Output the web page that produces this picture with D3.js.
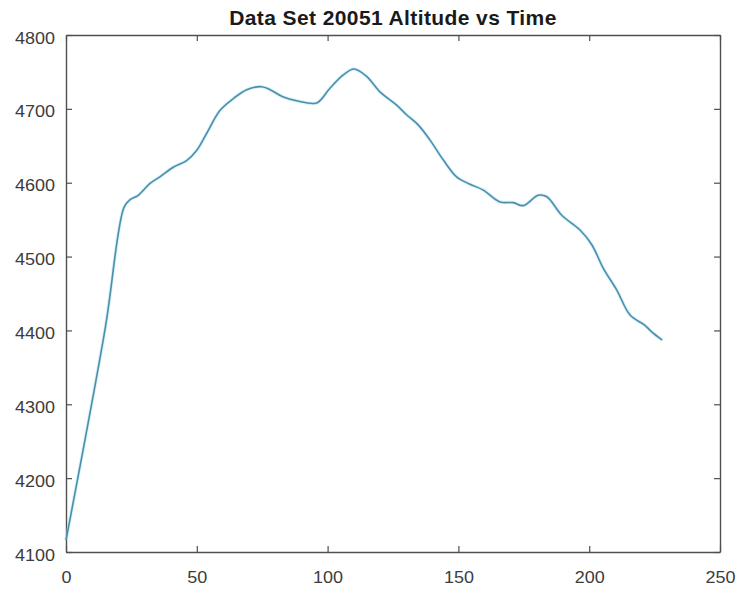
<!DOCTYPE html>
<html>
<head>
<meta charset="utf-8">
<script src="https://cdn.jsdelivr.net/npm/d3@7"></script>
<style>
  html, body { margin: 0; padding: 0; background: #fff; }
  svg { display: block; }
</style>
</head>
<body>
<svg id="chart" width="738" height="589"></svg>
<script>
// Flight time samples (s) and altitude readings (m)
const time = [0, 14.9, 22.2, 24.5, 27.6, 32.1, 35.9, 41.0, 46.1, 50.0, 53.8, 58.9, 64.0, 69.1, 74.8,
  78.0, 83.1, 88.2, 95.8, 100.9, 106.0, 110.1, 114.9, 120.0, 126.4, 130.2, 134.7, 139.1, 144.2,
  149.3, 154.4, 159.5, 165.9, 171.0, 174.8, 180.5, 183.8, 189.5, 196.5, 201.0, 205.4, 210.5,
  215.6, 221.3, 223.9, 227.9];
const altitude = [4116, 4401, 4567, 4577, 4583, 4599, 4608, 4621, 4630, 4644, 4667, 4698, 4714, 4726, 4730,
  4726, 4716, 4711, 4708, 4728, 4746, 4754, 4744, 4723, 4705, 4692, 4678, 4658, 4631,
  4608, 4598, 4590, 4574, 4573, 4569, 4583, 4581, 4556, 4536, 4516, 4484, 4455,
  4421, 4407, 4398, 4387];
const xTicks = [0, 50, 100, 150, 200, 250];
const yTicks = [4100, 4200, 4300, 4400, 4500, 4600, 4700, 4800];
const titleText = "Data Set 20051 Altitude vs Time";

const svg = d3.select("#chart");
const m = { left: 66, right: 720, top: 35, bottom: 552 };

const x = d3.scaleLinear().domain([0, 250]).range([m.left, m.right]);
const y = d3.scaleLinear().domain([4100, 4800]).range([m.bottom, m.top]);

const axisColor = "#4f4f4f";
const textColor = "#3c3c3c";
const font = "'Liberation Sans', Arial, Helvetica, sans-serif";
const tickLen = 6;
const fmt = d3.format("d");
const digitW = 10; // widened tick-label glyphs

// Title
svg.append("text")
  .attr("x", (m.left + m.right) / 2)
  .attr("y", 25)
  .attr("text-anchor", "middle")
  .attr("font-family", font)
  .attr("font-weight", "bold")
  .attr("font-size", 21)
  .attr("letter-spacing", 0.4)
  .attr("fill", "#1a1a1a")
  .text(titleText);

// Bottom and left axes with inward ticks
const xAxis = d3.axisBottom(x).tickValues(xTicks).tickSizeInner(-tickLen).tickSizeOuter(0).tickFormat(fmt);
const yAxis = d3.axisLeft(y).tickValues(yTicks).tickSizeInner(-tickLen).tickSizeOuter(0).tickFormat(fmt);

const gx = svg.append("g").attr("transform", `translate(0,${m.bottom})`).call(xAxis);
const gy = svg.append("g").attr("transform", `translate(${m.left},0)`).call(yAxis);

// Mirror ticks on the top and right edges
const gxTop = svg.append("g").attr("transform", `translate(0,${m.top})`)
  .call(d3.axisTop(x).tickValues(xTicks).tickSizeInner(-tickLen).tickSizeOuter(0).tickFormat(""));
const gyRight = svg.append("g").attr("transform", `translate(${m.right},0)`)
  .call(d3.axisRight(y).tickValues(yTicks).tickSizeInner(-tickLen).tickSizeOuter(0).tickFormat(""));

[gx, gy, gxTop, gyRight].forEach(g => {
  g.select(".domain").attr("stroke", axisColor).attr("stroke-width", 1.4);
  g.selectAll(".tick line").attr("stroke", axisColor).attr("stroke-width", 1.2);
  g.selectAll(".tick text")
    .attr("font-family", font)
    .attr("font-size", 16)
    .attr("fill", textColor)
    .attr("lengthAdjust", "spacingAndGlyphs")
    .attr("textLength", d => String(fmt(d)).length * digitW);
});

gx.selectAll(".tick text").attr("y", 31).attr("dy", 0);
gy.selectAll(".tick text").attr("x", -11).attr("dy", "0.5em");

// Altitude trace
const line = d3.line()
  .x((d, i) => x(time[i]))
  .y(d => y(d))
  .curve(d3.curveCatmullRom.alpha(0.5));

svg.append("path")
  .datum(altitude)
  .attr("fill", "none")
  .attr("stroke", "#a6dcef")
  .attr("stroke-width", 3.4)
  .attr("stroke-opacity", 0.45)
  .attr("d", line);

svg.append("path")
  .datum(altitude)
  .attr("fill", "none")
  .attr("stroke", "#4a8fab")
  .attr("stroke-width", 1.6)
  .attr("stroke-linejoin", "round")
  .attr("d", line);
</script>
</body>
</html>
